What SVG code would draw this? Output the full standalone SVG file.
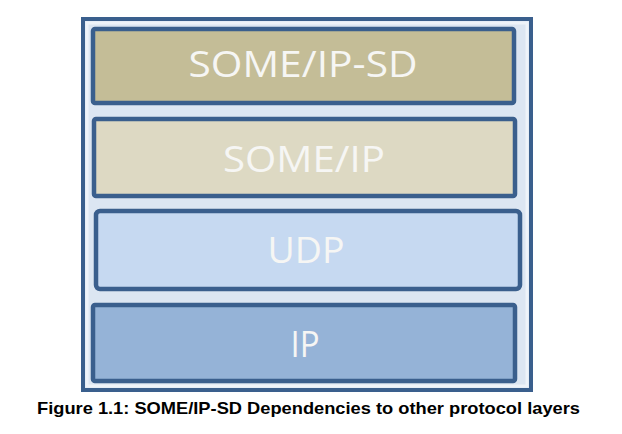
<svg xmlns="http://www.w3.org/2000/svg" width="622" height="434" viewBox="0 0 622 434">
<style>
.layer{stroke:#3a5f8d;stroke-width:4.5}
.lbl{font-family:"Open Sans","Liberation Sans",sans-serif;font-size:37px;fill:#f6f6f4;text-anchor:middle}
.cap{font-family:"Liberation Sans",Arial,sans-serif;font-weight:bold;font-size:16.5px;fill:#000}
</style>
<rect width="622" height="434" fill="#ffffff"/>
<g id="frame">
<rect x="83" y="19" width="448" height="371" fill="#dce6f2" stroke="#3a5f8d" stroke-width="4"/>
<rect x="87" y="23" width="440" height="363" fill="none" stroke="#eef3f9" stroke-width="3"/>
</g>
<g id="some-ip-sd">
<rect class="layer" x="93" y="29" width="421" height="74" rx="2" fill="#c4bd97"/>
<text class="lbl" x="303" y="77" textLength="229" lengthAdjust="spacingAndGlyphs">SOME/IP-SD</text>
</g>
<g id="some-ip">
<rect class="layer" x="94" y="119" width="421" height="77" rx="2" fill="#ddd9c3"/>
<text class="lbl" x="304" y="172" textLength="162" lengthAdjust="spacingAndGlyphs">SOME/IP</text>
</g>
<g id="udp">
<rect class="layer" x="96" y="211" width="424" height="78" rx="4" fill="#c6d9f1" stroke-width="6"/>
<text class="lbl" x="306" y="263" textLength="77" lengthAdjust="spacingAndGlyphs">UDP</text>
</g>
<g id="ip">
<rect class="layer" x="93" y="305" width="422" height="76" rx="2" fill="#95b3d7"/>
<text class="lbl" x="305" y="357" textLength="29" lengthAdjust="spacingAndGlyphs">IP</text>
</g>
<g id="connectors"></g>
<text class="cap" x="37" y="414" textLength="543" lengthAdjust="spacingAndGlyphs">Figure 1.1: SOME/IP-SD Dependencies to other protocol layers</text>
</svg>
